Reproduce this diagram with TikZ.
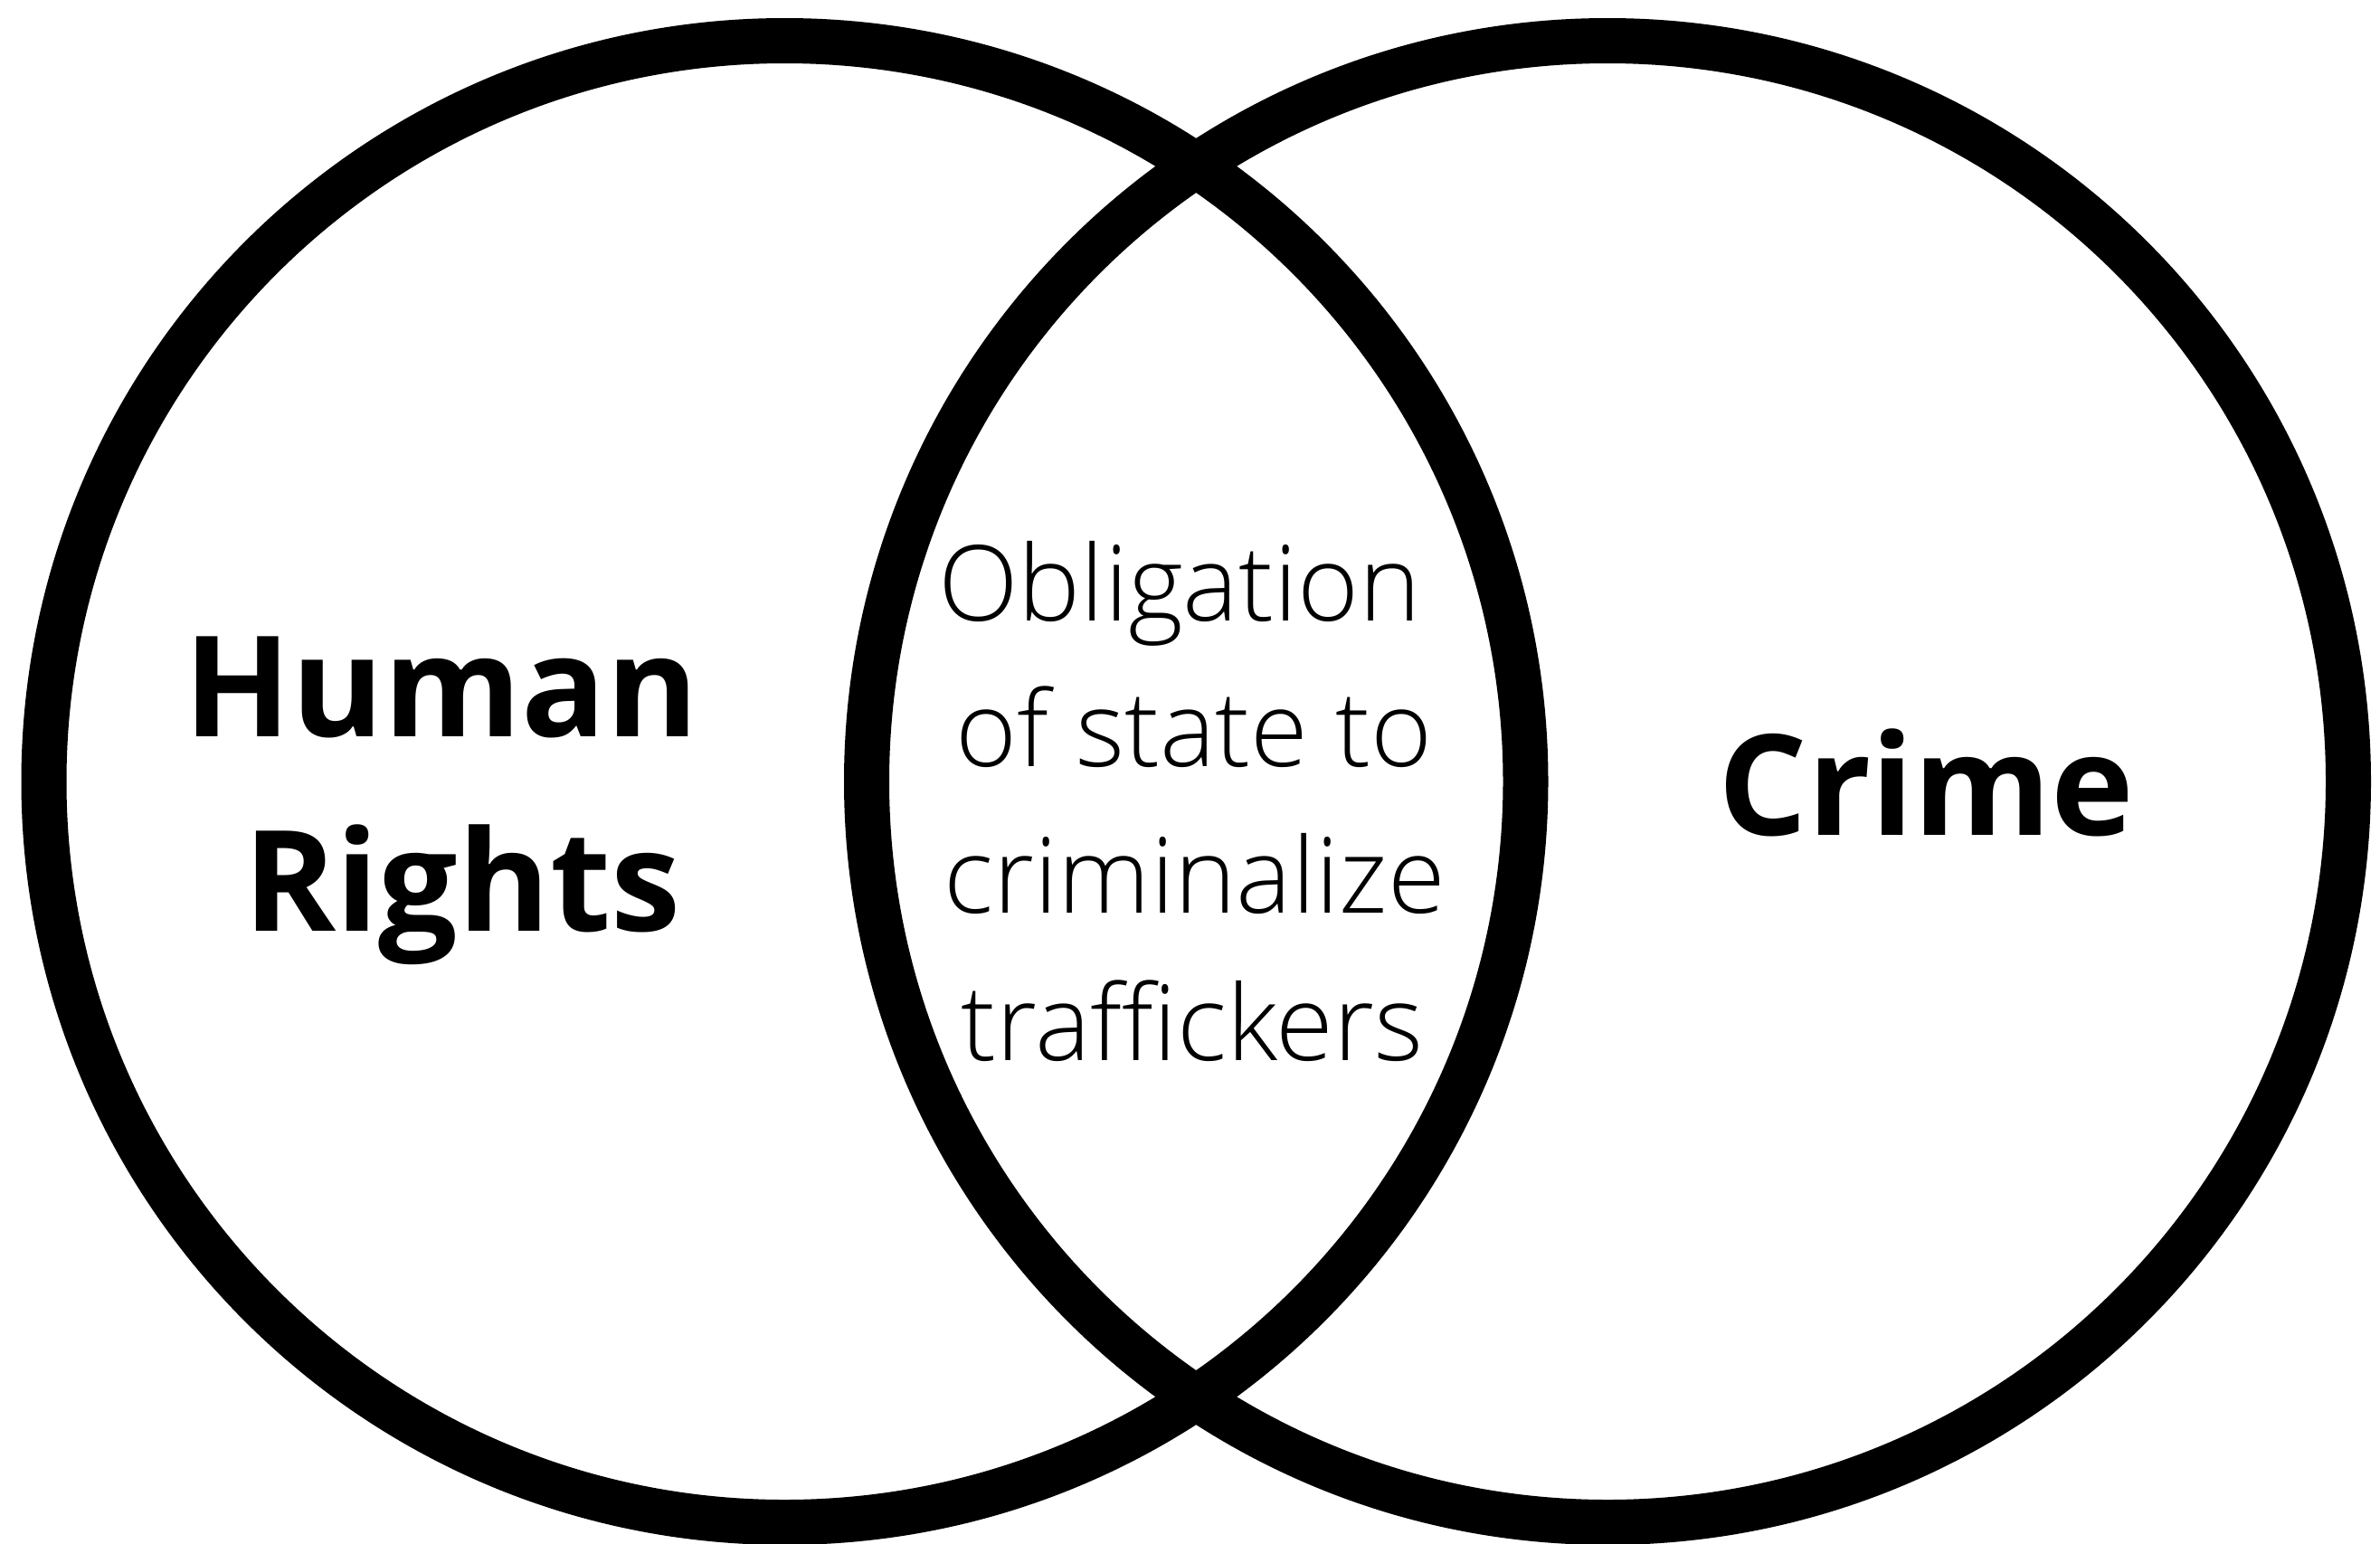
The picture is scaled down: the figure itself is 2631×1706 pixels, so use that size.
\documentclass[tikz,border=0pt]{standalone}
\usepackage{fontspec}
\setmainfont{Open Sans}
\newfontfamily\lightfont{Open Sans Light}
\begin{document}
\begin{tikzpicture}[x=1pt,y=-1pt,
  ring/.style={draw=black,line width=50pt},
  boldlabel/.style={anchor=base,inner sep=0pt,font=\bfseries\fontsize{155}{186}\selectfont},
  lightlabel/.style={anchor=base,inner sep=0pt,font=\lightfont\fontsize{116}{160}\selectfont}]
\useasboundingbox[fill=white] (0,0) rectangle (2631,1706);
\coordinate (lc) at (867.5,864);
\coordinate (rc) at (1777,864);
\draw[ring] (lc) circle[radius=819pt];
\draw[ring] (rc) circle[radius=819pt];
\node[boldlabel] (human) at (488,814) {Human};
\node[boldlabel] (rights) at (511,1029) {Rights};
\node[boldlabel] (crime) at (2129.5,923) {Crime};
\node[lightlabel] (l1) at (1304,686) {Obligation};
\node[lightlabel] (l2) at (1320,847) {of state to};
\node[lightlabel] (l3) at (1320.5,1009) {criminalize};
\node[lightlabel] (l4) at (1318,1172) {traffickers};
\end{tikzpicture}
\end{document}
